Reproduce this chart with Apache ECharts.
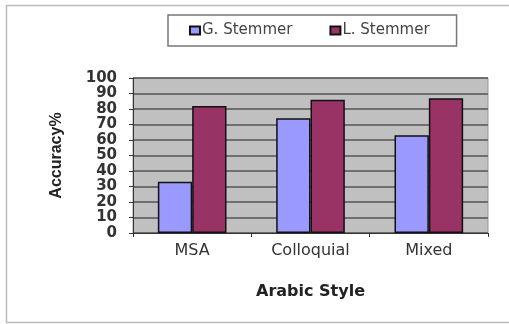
<!DOCTYPE html>
<html>
<head>
<meta charset="utf-8">
<script src="https://cdn.jsdelivr.net/npm/echarts@6/dist/echarts.min.js"></script>
<style>
html, body { margin: 0; padding: 0; background: #fff; }
#chart { width: 509px; height: 324px; }
</style>
</head>
<body>
<div id="chart"></div>
<script>
var categories = ['MSA', 'Colloquial', 'Mixed'];
var gStemmer = [33, 74, 63];
var lStemmer = [82, 86, 87];
var yTicks = [0, 10, 20, 30, 40, 50, 60, 70, 80, 90, 100];

var myChart = echarts.init(document.getElementById('chart'));

var option = {
    backgroundColor: '#fff',
    animation: false,
    graphic: [
        {
            type: 'rect',
            shape: { x: 6.5, y: 5.5, width: 520, height: 317 },
            style: { fill: 'none', stroke: '#bbb', lineWidth: 1.5 },
            silent: true
        }
    ],
    legend: {
        data: ['G. Stemmer', 'L. Stemmer'],
        left: 168,
        top: 15,
        padding: [8, 27, 8, 21],
        borderColor: '#777',
        borderWidth: 1.5,
        itemGap: 37,
        itemWidth: 10,
        itemHeight: 8,
        icon: 'rect',
        textStyle: { fontFamily: 'DejaVu Sans', fontSize: 15, color: '#444', padding: [0, 0, 0, -3] }
    },
    grid: {
        left: 133,
        right: 21,
        top: 78,
        bottom: 91,
        show: true,
        backgroundColor: '#c0c0c0',
        borderColor: '#999',
        borderWidth: 1
    },
    xAxis: {
        type: 'category',
        data: categories,
        name: 'Arabic Style',
        nameLocation: 'middle',
        nameGap: 51,
        nameTextStyle: { fontFamily: 'DejaVu Sans', fontSize: 16, fontWeight: 'bold', color: '#222' },
        axisLine: { lineStyle: { color: '#333', width: 1 } },
        axisTick: { show: true, length: 4, lineStyle: { color: '#333' } },
        axisLabel: { fontFamily: 'DejaVu Sans', fontSize: 16, color: '#333', margin: 10 }
    },
    yAxis: {
        type: 'value',
        min: yTicks[0],
        max: yTicks[yTicks.length - 1],
        interval: 10,
        name: 'Accuracy%',
        nameLocation: 'middle',
        nameGap: 68,
        nameTextStyle: { fontFamily: 'Liberation Sans', fontSize: 16, fontWeight: 'bold', color: '#222' },
        axisLine: { show: true, lineStyle: { color: '#333', width: 1 } },
        axisTick: { show: true, length: 4, lineStyle: { color: '#333' } },
        axisLabel: { fontFamily: 'DejaVu Sans', fontSize: 15, fontWeight: 'bold', color: '#333', margin: 16 },
        splitLine: { show: true, lineStyle: { color: '#555', width: 1.5 } }
    },
    series: [
        {
            name: 'G. Stemmer',
            type: 'bar',
            data: gStemmer,
            barGap: '0%',
            barCategoryGap: '42%',
            itemStyle: { color: '#9999ff', borderColor: '#111', borderWidth: 1.5 }
        },
        {
            name: 'L. Stemmer',
            type: 'bar',
            data: lStemmer,
            itemStyle: { color: '#993366', borderColor: '#111', borderWidth: 1.5 }
        }
    ]
};

myChart.setOption(option);
</script>
</body>
</html>
